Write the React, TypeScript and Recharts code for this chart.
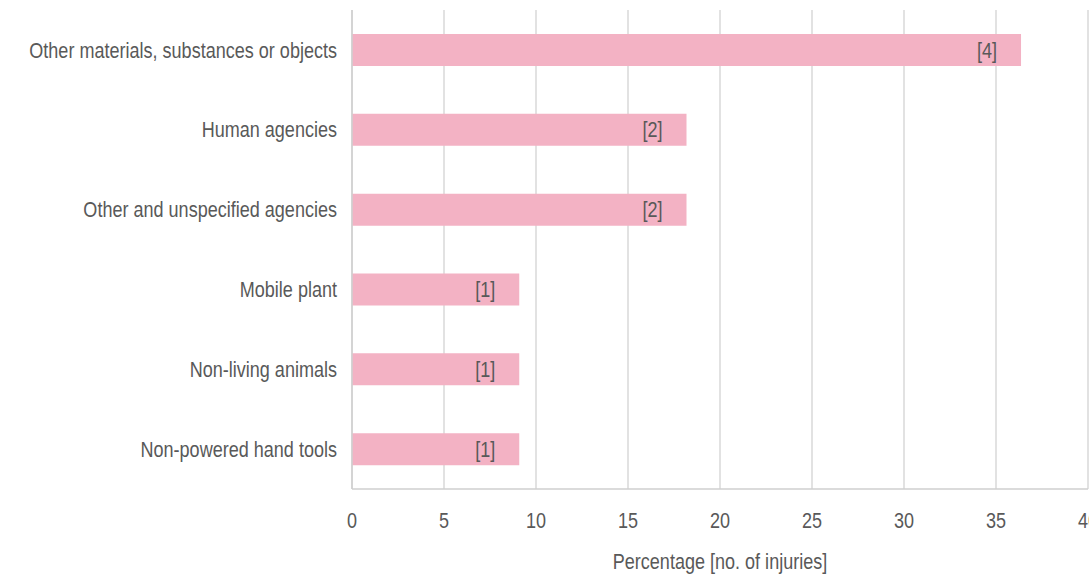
import { BarChart, Bar, XAxis, YAxis, CartesianGrid, LabelList, Label } from 'recharts'

const categories = [
  'Other materials, substances or objects',
  'Human agencies',
  'Other and unspecified agencies',
  'Mobile plant',
  'Non-living animals',
  'Non-powered hand tools',
]
const percentages = [36.36, 18.18, 18.18, 9.09, 9.09, 9.09]
const injuries = [4, 2, 2, 1, 1, 1]
const xTicks = [0, 5, 10, 15, 20, 25, 30, 35, 40]

const data = categories.map((name, i) => ({
  name,
  value: percentages[i],
  label: `[${injuries[i]}]`,
}))

// condensed look: regular sans squeezed horizontally
const font = '"Liberation Sans", Arial, sans-serif'
const fontSize = 22
const squeeze = 0.82
const textColor = '#595959'

function Narrow({ x, y, anchor, baseline, children }: any) {
  return (
    <text
      transform={`translate(${x},${y}) scale(${squeeze},1)`}
      textAnchor={anchor}
      dominantBaseline={baseline}
      fill={textColor}
      fontSize={fontSize}
      fontFamily={font}
    >
      {children}
    </text>
  )
}

function YTick({ x, y, payload }: any) {
  return (
    <Narrow x={x} y={y} anchor="end" baseline="central">
      {payload.value}
    </Narrow>
  )
}

function XTick({ x, y, payload }: any) {
  return (
    <Narrow x={x} y={y + 11} anchor="middle" baseline="central">
      {payload.value}
    </Narrow>
  )
}

function AxisTitle({ viewBox }: any) {
  const { x, y, width } = viewBox
  return (
    <Narrow x={x + width / 2} y={y + 72} anchor="middle" baseline="central">
      Percentage [no. of injuries]
    </Narrow>
  )
}

function BarValue({ x, y, width, height, value }: any) {
  return (
    <Narrow x={x + width - 24} y={y + height / 2} anchor="end" baseline="central">
      {value}
    </Narrow>
  )
}

export default function App() {
  return (
    <div style={{ position: 'absolute', left: 0, top: 0 }}>
      <BarChart
        width={1100}
        height={579}
        data={data}
        layout="vertical"
        margin={{ top: 10, right: 12, bottom: 0, left: 0 }}
      >
        <CartesianGrid horizontal={false} stroke="#d9d9d9" strokeWidth={1.5} />
        <XAxis
          type="number"
          domain={[0, 40]}
          ticks={xTicks}
          interval={0}
          height={90}
          tickSize={0}
          tickMargin={20}
          tickLine={false}
          axisLine={{ stroke: '#cfcfcf', strokeWidth: 1.5 }}
          tick={<XTick />}
        >
          <Label content={<AxisTitle />} />
        </XAxis>
        <YAxis
          type="category"
          dataKey="name"
          width={352}
          tickSize={0}
          tickMargin={15}
          tickLine={false}
          axisLine={{ stroke: '#cfcfcf', strokeWidth: 1.5 }}
          tick={<YTick />}
        />
        <Bar dataKey="value" fill="#f3b2c4" barSize={32} isAnimationActive={false}>
          <LabelList dataKey="label" content={<BarValue />} />
        </Bar>
      </BarChart>
    </div>
  )
}
